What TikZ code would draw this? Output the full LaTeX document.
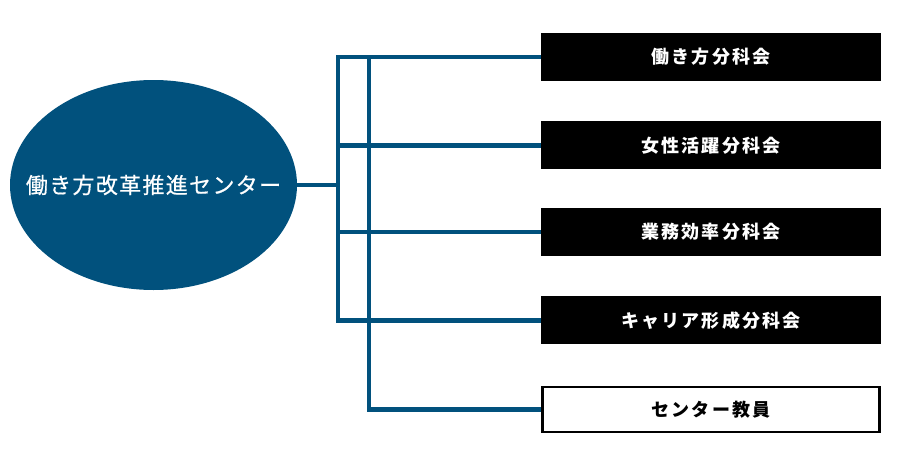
\documentclass[tikz,border=0pt]{standalone}
\usepackage{fontspec}
\setmainfont{Noto Sans CJK JP}
\usepackage{xcolor}
\usepackage{tikz}
\usetikzlibrary{shapes.geometric,positioning,calc}
\definecolor{hubblue}{RGB}{1,81,125}

\begin{document}
\begin{tikzpicture}[x=1pt,y=-1pt,
  hub/.style={ellipse,fill=hubblue,inner sep=0pt,
    minimum width=287pt,minimum height=210pt},
  hubtext/.style={text=white,
    font=\fontsize{22}{26}\selectfont\addfontfeatures{LetterSpace=6,FakeBold=0.6}},
  unit/.style={fill=black,text=white,minimum width=340pt,minimum height=48pt,
    inner sep=0pt,font=\fontsize{18}{22}\selectfont\bfseries\addfontfeatures{LetterSpace=12}},
  staff/.style={unit,fill=white,text=black,draw=black,line width=2.5pt,
    minimum width=337pt,minimum height=45pt},
  link/.style={hubblue,line width=4.6pt},
]
  \useasboundingbox (0,0) rectangle (900,450);

  \node[hub,label={[hubtext]center:働き方改革推進センター}] (hub) at (153.5,185) {};

  \node[unit] (b1) at (711,57) {働き方分科会};
  \node[unit,below=40pt of b1] (b2) {女性活躍分科会};
  \node[unit,below=38pt of b2] (b3) {業務効率分科会};
  \node[unit,below=40pt of b3] (b4) {キャリア形成分科会};
  \node[staff,below=41.5pt of b4] (b5) {センター教員};

  \coordinate (trunkA) at (338,0);
  \coordinate (trunkB) at (369,0);

  \draw[link] (hub.east) -- (trunkA |- hub.east);
  \draw[link] (b1.west) -| (trunkA |- b4.west) -- (b4.west);
  \draw[link] (trunkA |- b2.west) -- (b2.west);
  \draw[link] (trunkA |- b3.west) -- (b3.west);
  \draw[link] (trunkB |- b1.west) |- (b5.west);
\end{tikzpicture}
\end{document}
